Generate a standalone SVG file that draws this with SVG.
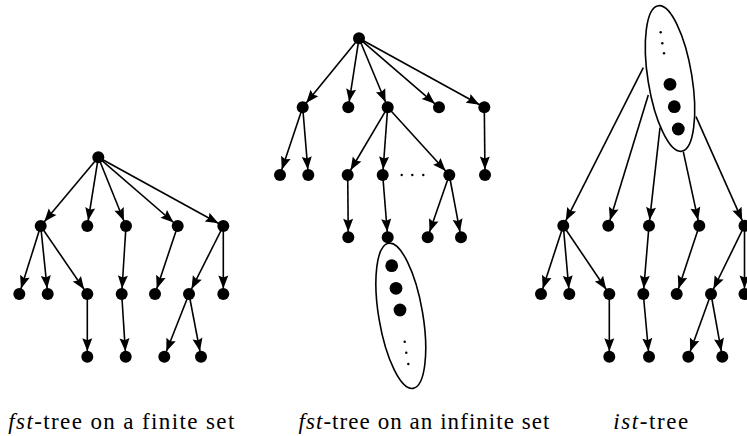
<svg xmlns="http://www.w3.org/2000/svg" width="747" height="436" viewBox="0 0 747 436">
<style>
.e{stroke:#000;stroke-width:1.6;fill:none;marker-end:url(#ah)}
.n{fill:#000}
.s{fill:#000}
.ov{fill:#fff;stroke:#000;stroke-width:1.6}
</style>
<defs>
<marker id="ah" markerUnits="userSpaceOnUse" markerWidth="22" markerHeight="12" refX="18.5" refY="5" orient="auto" overflow="visible">
<path d="M0,0 L13,5 L0,10 L2,5 z" fill="#000"/>
</marker>
</defs>
<g id="connectors">
<line class="e" x1="98.3" y1="157.3" x2="40.7" y2="226"/>
<line class="e" x1="98.3" y1="157.3" x2="87.3" y2="226"/>
<line class="e" x1="98.3" y1="157.3" x2="126" y2="226"/>
<line class="e" x1="98.3" y1="157.3" x2="177.7" y2="226"/>
<line class="e" x1="98.3" y1="157.3" x2="223.3" y2="226"/>
<line class="e" x1="40.7" y1="226" x2="19.3" y2="294"/>
<line class="e" x1="40.7" y1="226" x2="47.7" y2="294"/>
<line class="e" x1="40.7" y1="226" x2="87.3" y2="294"/>
<line class="e" x1="126" y1="226" x2="121.7" y2="294"/>
<line class="e" x1="177.7" y1="226" x2="155" y2="294"/>
<line class="e" x1="223.3" y1="226" x2="189" y2="294"/>
<line class="e" x1="223.3" y1="226" x2="223.3" y2="294"/>
<line class="e" x1="87.3" y1="294" x2="87.3" y2="356.7"/>
<line class="e" x1="121.7" y1="294" x2="125.7" y2="356.7"/>
<line class="e" x1="189" y1="294" x2="164.3" y2="356.7"/>
<line class="e" x1="189" y1="294" x2="201" y2="356.7"/>
<line class="e" x1="359" y1="38.3" x2="302.7" y2="107.3"/>
<line class="e" x1="359" y1="38.3" x2="348.3" y2="107.3"/>
<line class="e" x1="359" y1="38.3" x2="387.7" y2="107.3"/>
<line class="e" x1="359" y1="38.3" x2="439" y2="107.3"/>
<line class="e" x1="359" y1="38.3" x2="484.3" y2="107.3"/>
<line class="e" x1="302.7" y1="107.3" x2="280" y2="175"/>
<line class="e" x1="302.7" y1="107.3" x2="308.3" y2="175"/>
<line class="e" x1="387.7" y1="107.3" x2="347.7" y2="175"/>
<line class="e" x1="387.7" y1="107.3" x2="382.7" y2="175"/>
<line class="e" x1="387.7" y1="107.3" x2="449.3" y2="175"/>
<line class="e" x1="484.3" y1="107.3" x2="485" y2="175"/>
<line class="e" x1="347.7" y1="175" x2="348.3" y2="237.3"/>
<line class="e" x1="382.7" y1="175" x2="387.7" y2="237.3"/>
<line class="e" x1="449.3" y1="175" x2="427.7" y2="237.3"/>
<line class="e" x1="449.3" y1="175" x2="461" y2="237.3"/>
<line class="e" x1="643.3" y1="67.7" x2="563.3" y2="225.7"/>
<line class="e" x1="648.3" y1="95" x2="608.3" y2="225.7"/>
<line class="e" x1="660" y1="127.7" x2="649" y2="225.7"/>
<line class="e" x1="683.3" y1="151.7" x2="699.3" y2="225.7"/>
<line class="e" x1="696" y1="116.7" x2="744.5" y2="225.7"/>
<line class="e" x1="563.3" y1="225.7" x2="541" y2="294"/>
<line class="e" x1="563.3" y1="225.7" x2="569.3" y2="294"/>
<line class="e" x1="563.3" y1="225.7" x2="609.3" y2="294"/>
<line class="e" x1="649" y1="225.7" x2="643.3" y2="294"/>
<line class="e" x1="699.3" y1="225.7" x2="676.7" y2="294"/>
<line class="e" x1="744.5" y1="225.7" x2="711" y2="294"/>
<line class="e" x1="744.5" y1="225.7" x2="744.5" y2="294"/>
<line class="e" x1="609.3" y1="294" x2="609.3" y2="356.7"/>
<line class="e" x1="643.3" y1="294" x2="649" y2="356.7"/>
<line class="e" x1="711" y1="294" x2="688.3" y2="356.7"/>
<line class="e" x1="711" y1="294" x2="722.3" y2="356.7"/>
</g>
<g id="tree1">
<circle class="n" cx="98.3" cy="157.3" r="6"/>
<circle class="n" cx="40.7" cy="226" r="6"/>
<circle class="n" cx="87.3" cy="226" r="6"/>
<circle class="n" cx="126" cy="226" r="6"/>
<circle class="n" cx="177.7" cy="226" r="6"/>
<circle class="n" cx="223.3" cy="226" r="6"/>
<circle class="n" cx="19.3" cy="294" r="6"/>
<circle class="n" cx="47.7" cy="294" r="6"/>
<circle class="n" cx="87.3" cy="294" r="6"/>
<circle class="n" cx="121.7" cy="294" r="6"/>
<circle class="n" cx="155" cy="294" r="6"/>
<circle class="n" cx="189" cy="294" r="6"/>
<circle class="n" cx="223.3" cy="294" r="6"/>
<circle class="n" cx="87.3" cy="356.7" r="6"/>
<circle class="n" cx="125.7" cy="356.7" r="6"/>
<circle class="n" cx="164.3" cy="356.7" r="6"/>
<circle class="n" cx="201" cy="356.7" r="6"/>
</g>
<g id="tree2">
<ellipse class="ov" cx="400.8" cy="315.8" rx="22" ry="73.6" transform="rotate(-9.6 400.8 315.8)"/>
<circle class="n" cx="359" cy="38.3" r="6"/>
<circle class="n" cx="302.7" cy="107.3" r="6"/>
<circle class="n" cx="348.3" cy="107.3" r="6"/>
<circle class="n" cx="387.7" cy="107.3" r="6"/>
<circle class="n" cx="439" cy="107.3" r="6"/>
<circle class="n" cx="484.3" cy="107.3" r="6"/>
<circle class="n" cx="280" cy="175" r="6"/>
<circle class="n" cx="308.3" cy="175" r="6"/>
<circle class="n" cx="347.7" cy="175" r="6"/>
<circle class="n" cx="382.7" cy="175" r="6"/>
<circle class="n" cx="449.3" cy="175" r="6"/>
<circle class="n" cx="485" cy="175" r="6"/>
<circle class="n" cx="348.3" cy="237.3" r="6"/>
<circle class="n" cx="387.7" cy="237.3" r="6"/>
<circle class="n" cx="427.7" cy="237.3" r="6"/>
<circle class="n" cx="461" cy="237.3" r="6"/>
<circle class="s" cx="401.7" cy="175" r="1.2"/>
<circle class="s" cx="412.3" cy="175" r="1.2"/>
<circle class="s" cx="423.3" cy="175" r="1.2"/>
<circle class="n" cx="391.7" cy="265.7" r="6.4"/>
<circle class="n" cx="396" cy="288.3" r="6.4"/>
<circle class="n" cx="400" cy="310" r="6.4"/>
<circle class="s" cx="404.7" cy="341.7" r="1.2"/>
<circle class="s" cx="406.3" cy="352.7" r="1.2"/>
<circle class="s" cx="408.3" cy="364" r="1.2"/>
</g>
<g id="tree3">
<ellipse class="ov" cx="670" cy="78.5" rx="22" ry="73.7" transform="rotate(-9.2 670 78.5)"/>
<circle class="s" cx="660.7" cy="32.3" r="1.2"/>
<circle class="s" cx="662.3" cy="43.3" r="1.2"/>
<circle class="s" cx="664" cy="53.3" r="1.2"/>
<circle class="n" cx="670" cy="84.3" r="6.4"/>
<circle class="n" cx="674.3" cy="106.7" r="6.4"/>
<circle class="n" cx="678.3" cy="129" r="6.4"/>
<circle class="n" cx="563.3" cy="225.7" r="6"/>
<circle class="n" cx="608.3" cy="225.7" r="6"/>
<circle class="n" cx="649" cy="225.7" r="6"/>
<circle class="n" cx="699.3" cy="225.7" r="6"/>
<circle class="n" cx="744.5" cy="225.7" r="6"/>
<circle class="n" cx="541" cy="294" r="6"/>
<circle class="n" cx="569.3" cy="294" r="6"/>
<circle class="n" cx="609.3" cy="294" r="6"/>
<circle class="n" cx="643.3" cy="294" r="6"/>
<circle class="n" cx="676.7" cy="294" r="6"/>
<circle class="n" cx="711" cy="294" r="6"/>
<circle class="n" cx="744.5" cy="294" r="6"/>
<circle class="n" cx="609.3" cy="356.7" r="6"/>
<circle class="n" cx="649" cy="356.7" r="6"/>
<circle class="n" cx="688.3" cy="356.7" r="6"/>
<circle class="n" cx="722.3" cy="356.7" r="6"/>
</g>
<g id="labels">
<text x="8.3" y="429" font-family="Liberation Serif" font-size="23" fill="#000" textLength="226" lengthAdjust="spacing"><tspan font-style="italic">fst</tspan>-tree on a finite set</text>
<text x="298.5" y="429" font-family="Liberation Serif" font-size="23" fill="#000" textLength="251" lengthAdjust="spacing"><tspan font-style="italic">fst</tspan>-tree on an infinite set</text>
<text x="613.3" y="429" font-family="Liberation Serif" font-size="23" fill="#000" textLength="75" lengthAdjust="spacing"><tspan font-style="italic">ist</tspan>-tree</text>
</g>
</svg>
